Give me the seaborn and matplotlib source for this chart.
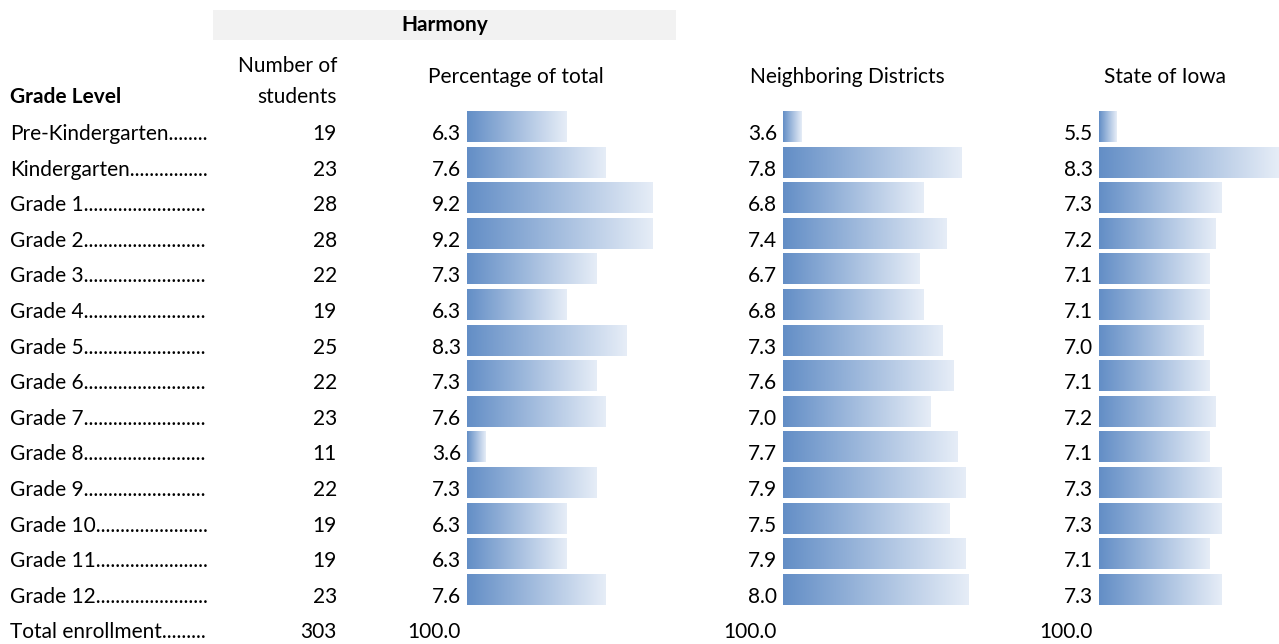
import numpy as np
import pandas as pd
import matplotlib
matplotlib.use("Agg")
import matplotlib.pyplot as plt
from matplotlib.colors import LinearSegmentedColormap
from matplotlib.patches import Rectangle
from matplotlib.transforms import blended_transform_factory
import seaborn as sns

# ---------------- data ----------------
grades = ["Pre-Kindergarten", "Kindergarten", "Grade 1", "Grade 2", "Grade 3",
          "Grade 4", "Grade 5", "Grade 6", "Grade 7", "Grade 8", "Grade 9",
          "Grade 10", "Grade 11", "Grade 12"]
students = [19, 23, 28, 28, 22, 19, 25, 22, 23, 11, 22, 19, 19, 23]
harmony_pct = [6.3, 7.6, 9.2, 9.2, 7.3, 6.3, 8.3, 7.3, 7.6, 3.6, 7.3, 6.3, 6.3, 7.6]
neighbor_pct = [3.6, 7.8, 6.8, 7.4, 6.7, 6.8, 7.3, 7.6, 7.0, 7.7, 7.9, 7.5, 7.9, 8.0]
iowa_pct = [5.5, 8.3, 7.3, 7.2, 7.1, 7.1, 7.0, 7.1, 7.2, 7.1, 7.3, 7.3, 7.1, 7.3]
total_label = "Total enrollment"
total_students = 303
total_pct = [100.0, 100.0, 100.0]
col_titles = ["Percentage of total", "Neighboring Districts", "State of Iowa"]
group_title = "Harmony"
row_header = "Grade Level"
count_header = ["Number of", "students"]

# ---------------- layout ----------------
W, H, DPI = 1279, 644, 100
sns.set_theme(style="white")
plt.rcParams["font.family"] = ["Lato", "DejaVu Sans"]
FS = 15

fig = plt.figure(figsize=(W / DPI, H / DPI), dpi=DPI)
fig.patch.set_facecolor("white")


def fx(px):
    return px / W


def fy(py):
    return 1 - py / H


cmap = LinearSegmentedColormap.from_list("databar", ["#638EC6", "#E6EDF7"])
grad = np.linspace(0, 1, 256).reshape(1, -1)

bar_lefts = [467, 783, 1099]
bar_widths = [186, 186, 180]
label_right = [461, 777, 1093]
title_centers = [516, 847, 1165]
series = [harmony_pct, neighbor_pct, iowa_pct]

row_top_px = 108.7
pitch = 35.6
nrows = len(grades) + 1
ax_h = nrows * pitch / H
ax_bottom = fy(row_top_px + nrows * pitch)

axes = []
for i, vals in enumerate(series):
    ax = fig.add_axes([fx(bar_lefts[i]), ax_bottom, bar_widths[i] / W, ax_h])
    df = pd.DataFrame({"row": np.arange(len(vals)), "val": vals})
    sns.barplot(data=df, x="val", y="row", orient="h", ax=ax, width=0.87,
                color="#638EC6", native_scale=True)
    vmin, vmax = min(vals), max(vals)
    base = (vmin - 0.1 * vmax) / 0.9
    for p in list(ax.patches):
        x1 = p.get_x() + p.get_width()
        y0, h = p.get_y(), p.get_height()
        ax.imshow(grad, extent=[base, x1, y0 + h, y0], aspect="auto",
                  cmap=cmap, interpolation="bilinear", zorder=2)
        p.set_facecolor("none")
        p.set_edgecolor("none")
    ax.set_xlim(base, vmax)
    ax.set_ylim(nrows - 0.5, -0.5)
    ax.axis("off")
    axes.append(ax)

tr = blended_transform_factory(fig.transFigure, axes[0].transData)
renderer = fig.canvas.get_renderer()
BL = 0.38  # baseline offset within row


def leader(y, label):
    t = fig.text(fx(10), y + BL, label, transform=tr, fontsize=FS,
                 ha="left", va="baseline", color="black")
    while t.get_window_extent(renderer).x1 < 206:
        t.set_text(t.get_text() + ".")
    if t.get_window_extent(renderer).x1 > 209:
        t.set_text(t.get_text()[:-1])


for r, g in enumerate(grades):
    leader(r, g)
    fig.text(fx(337), r + BL, f"{students[r]}", transform=tr, fontsize=FS,
             ha="right", va="baseline", color="black")
    for i, vals in enumerate(series):
        fig.text(fx(label_right[i]), r + BL, f"{vals[r]:.1f}", transform=tr,
                 fontsize=FS, ha="right", va="baseline", color="black")

tr_row = len(grades)
leader(tr_row, total_label)
fig.text(fx(337), tr_row + BL, f"{total_students}", transform=tr, fontsize=FS,
         ha="right", va="baseline", color="black")
for i in range(3):
    fig.text(fx(label_right[i]), tr_row + BL, f"{total_pct[i]:.1f}", transform=tr,
             fontsize=FS, ha="right", va="baseline", color="black")

# headers
fig.patches.append(Rectangle((fx(213), fy(40)), fx(676) - fx(213), fy(10) - fy(40),
                             transform=fig.transFigure, facecolor="#F2F2F2",
                             edgecolor="none", zorder=0))
fig.text(fx(445), fy(31), group_title, fontsize=FS, fontweight="bold",
         ha="center", va="baseline", color="black")
fig.text(fx(10), fy(103), row_header, fontsize=FS, fontweight="bold",
         ha="left", va="baseline", color="black")
fig.text(fx(337), fy(72), count_header[0], fontsize=FS, ha="right",
         va="baseline", color="black")
fig.text(fx(337), fy(103), count_header[1], fontsize=FS, ha="right",
         va="baseline", color="black")
for i, t in enumerate(col_titles):
    fig.text(fx(title_centers[i]), fy(83), t, fontsize=FS, ha="center",
             va="baseline", color="black")

fig.savefig("out.png", dpi=DPI, facecolor="white")
